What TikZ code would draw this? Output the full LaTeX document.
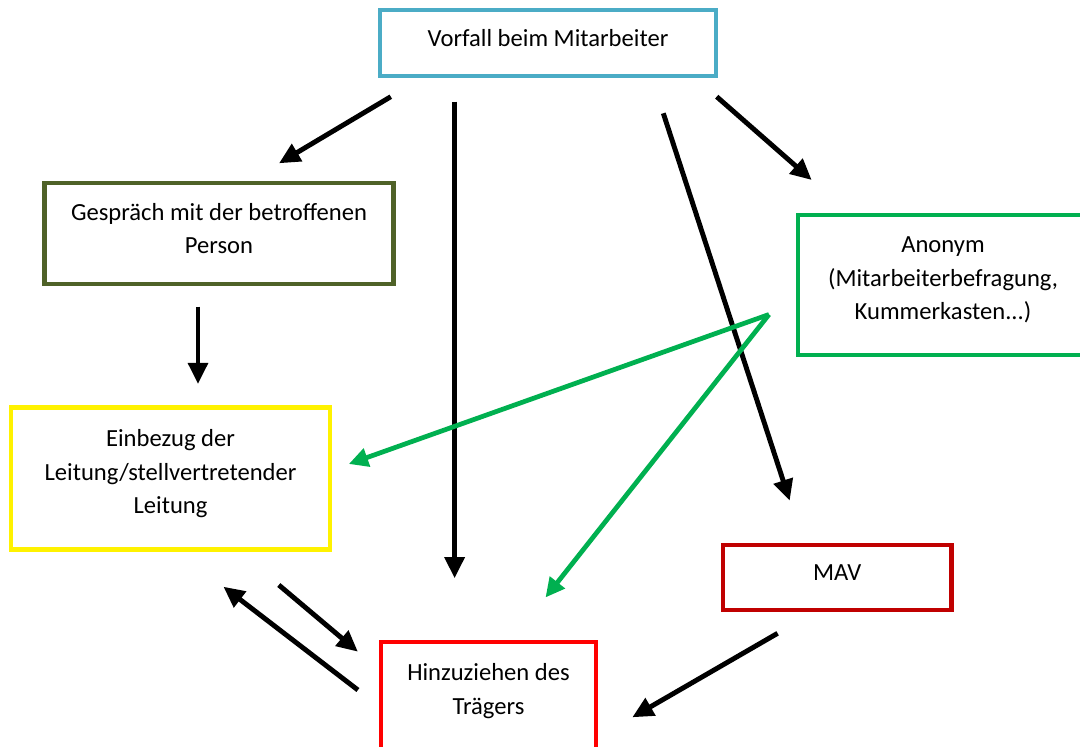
\documentclass[tikz,border=0pt]{standalone}
\usepackage{fontspec}
\setmainfont{Carlito}
\usetikzlibrary{arrows.meta}
\definecolor{vblue}{HTML}{4BACC6}
\definecolor{golive}{HTML}{4F6228}
\definecolor{agreen}{HTML}{00B050}
\definecolor{mavred}{HTML}{C00000}
\tikzset{bx/.append style={draw,rectangle,line width=2.3pt,inner sep=0pt}}
\tikzset{lb/.append style={align=center,yshift=2.8pt,font=\fontsize{14}{19}\selectfont}}
\tikzset{ar/.append style={line width=2.8pt,-{Triangle[length=12pt,width=11pt]}}}
\tikzset{gr/.append style={line width=2.7pt,draw=agreen,-{Triangle[length=11pt,width=10.5pt]}}}

\begin{document}
\begin{tikzpicture}
                \useasboundingbox (0,0) rectangle (21.6,14.92);
                % boxes
                \node[bx,draw=vblue,minimum width=6.72cm,minimum height=1.32cm,label={[lb]center:Vorfall beim Mitarbeiter}] (vorfall) at (10.96,14.06) {};
                \node[bx,draw=golive,minimum width=6.98cm,minimum height=2.03cm,label={[lb]center:{Gespräch mit der betroffenen\\Person}}] (gespraech) at (4.38,10.25) {};
                \node[bx,draw=agreen,minimum width=5.8cm,minimum height=2.8cm,label={[lb]center:{Anonym\\(Mitarbeiterbefragung,\\Kummerkasten...)}}] (anonym) at (18.86,9.22) {};
                \node[bx,draw=yellow,minimum width=6.38cm,minimum height=2.84cm,label={[lb]center:{Einbezug der\\Leitung/stellvertretender\\Leitung}}] (einbezug) at (3.41,5.35) {};
                \node[bx,draw=mavred,minimum width=4.57cm,minimum height=1.3cm,label={[lb]center:MAV}] (mav) at (16.745,3.37) {};
                \node[bx,draw=red,minimum width=4.3cm,minimum height=2.16cm,label={[lb]center:{Hinzuziehen des\\Trägers}}] (hinz) at (9.77,1.0) {};
                % arrow ends
                \coordinate (v1) at (7.816,12.986);
                \coordinate (g1) at (5.58,11.654);
                \coordinate (v2) at (9.092,12.886);
                \coordinate (h1) at (9.092,3.354);
                \coordinate (v3) at (13.266,12.654);
                \coordinate (m1) at (15.794,4.906);
                \coordinate (v4) at (14.334,12.986);
                \coordinate (a1) at (16.234,11.32);
                \coordinate (g2) at (3.96,8.786);
                \coordinate (e1) at (3.96,7.24);
                \coordinate (a2) at (15.38,8.63);
                \coordinate (e2) at (6.976,5.64);
                \coordinate (h2) at (10.91,2.97);
                \coordinate (e3) at (5.576,3.22);
                \coordinate (h3) at (7.158,1.886);
                \coordinate (h4) at (7.158,1.12);
                \coordinate (e4) at (4.468,3.186);
                \coordinate (m2) at (15.552,2.254);
                \coordinate (h5) at (12.646,0.574);
                % arrows
                \path (v1) edge[ar] (g1);
                \path (v2) edge[ar] (h1);
                \path (v3) edge[ar] (m1);
                \path (v4) edge[ar] (a1);
                \path (g2) edge[ar] (e1);
                \path (a2) edge[gr] (e2);
                \path (a2) edge[gr] (h2);
                \path (e3) edge[ar] (h3);
                \path (h4) edge[ar] (e4);
                \path (m2) edge[ar] (h5);
            \end{tikzpicture}
\end{document}
